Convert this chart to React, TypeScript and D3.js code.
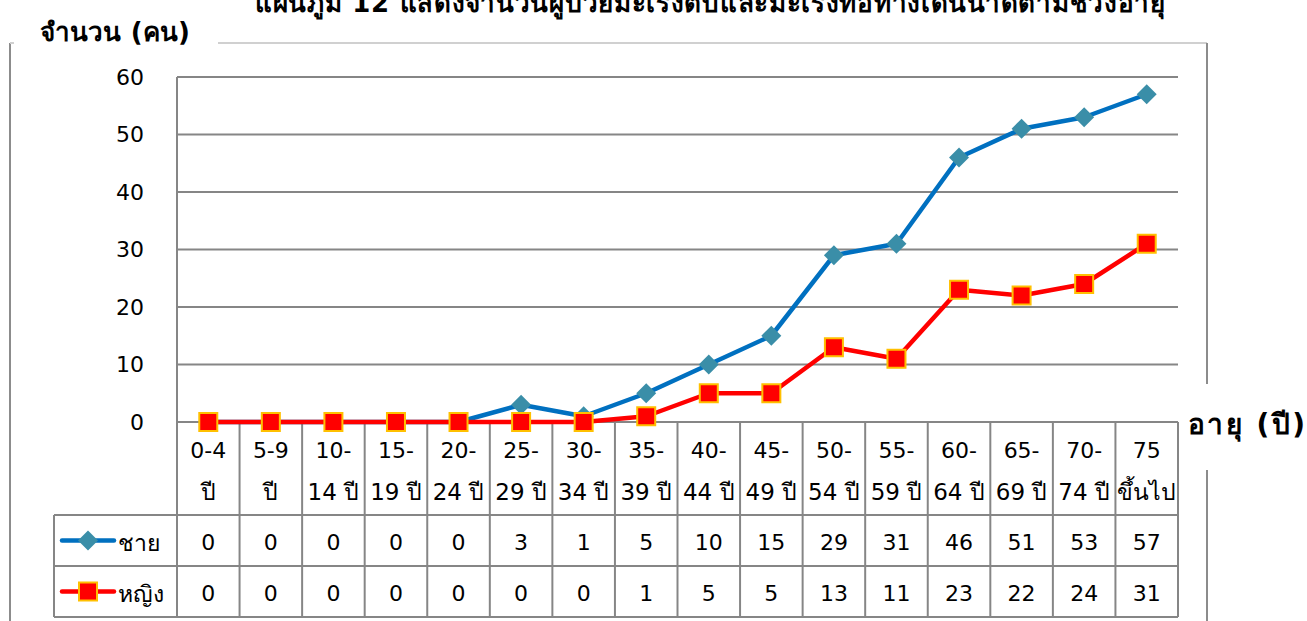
import React, { useEffect, useRef } from 'react'
import * as d3 from 'd3'

const categoriesTop = ['0-4', '5-9', '10-', '15-', '20-', '25-', '30-', '35-', '40-', '45-', '50-', '55-', '60-', '65-', '70-', '75']
const categoriesBottom = ['ปี', 'ปี', '14 ปี', '19 ปี', '24 ปี', '29 ปี', '34 ปี', '39 ปี', '44 ปี', '49 ปี', '54 ปี', '59 ปี', '64 ปี', '69 ปี', '74 ปี', 'ขึ้นไป']
const male = [0, 0, 0, 0, 0, 3, 1, 5, 10, 15, 29, 31, 46, 51, 53, 57]
const female = [0, 0, 0, 0, 0, 0, 0, 1, 5, 5, 13, 11, 23, 22, 24, 31]
const yTicks = [0, 10, 20, 30, 40, 50, 60]

const FONT = "Tahoma, 'DejaVu Sans', 'Noto Sans', sans-serif"

const App = () => {
  const ref = useRef<SVGSVGElement>(null)

  useEffect(() => {
    if (!ref.current) return
    const svg = d3.select(ref.current)
    svg.selectAll('*').remove()

    const W = 1307
    const H = 621
    const left = 177
    const right = 1178
    const catRowBottom = 515
    const rowH = 51
    const legendLeft = 54

    const idx = categoriesTop.map((d, i) => i)
    const x = d3.scaleBand<number>().domain(idx).range([left, right])
    const y = d3.scaleLinear().domain([0, 60]).range([422, 77])
    const cx = (i: number) => (x(i) as number) + x.bandwidth() / 2

    svg.append('rect').attr('width', W).attr('height', H).attr('fill', '#fff')

    // outer chart border
    svg.append('line').attr('x1', 10).attr('x2', 10).attr('y1', 43).attr('y2', H).attr('stroke', '#8c8c8c').attr('stroke-width', 2)
    svg.append('line').attr('x1', 10).attr('x2', 1207).attr('y1', 43).attr('y2', 43).attr('stroke', '#d0d0d0').attr('stroke-width', 2)
    svg.append('line').attr('x1', 1207).attr('x2', 1207).attr('y1', 43).attr('y2', H).attr('stroke', '#8c8c8c').attr('stroke-width', 2)

    // title (clipped at top, as in the source)
    svg.append('text')
      .attr('x', 710).attr('y', 12)
      .attr('text-anchor', 'middle')
      .attr('font-family', FONT).attr('font-size', 26).attr('font-weight', 'bold')
      .attr('textLength', 910).attr('lengthAdjust', 'spacing')
      .text('แผนภูมิ 12 แสดงจำนวนผู้ป่วยมะเร็งตับและมะเร็งท่อทางเดินน้ำดีตามช่วงอายุ')

    // y axis title with white background
    svg.append('rect').attr('x', 14).attr('y', 30).attr('width', 204).attr('height', 20).attr('fill', '#fff')
    svg.append('text')
      .attr('x', 40).attr('y', 41)
      .attr('font-family', FONT).attr('font-size', 26).attr('font-weight', 'bold')
      .attr('textLength', 150).attr('lengthAdjust', 'spacing')
      .text('จำนวน (คน)')

    // x axis title with white background
    svg.append('rect').attr('x', 1185).attr('y', 384).attr('width', 122).attr('height', 86).attr('fill', '#fff')
    svg.append('text')
      .attr('x', 1188).attr('y', 424)
      .attr('dominant-baseline', 'central')
      .attr('font-family', FONT).attr('font-size', 28).attr('font-weight', 'bold')
      .attr('textLength', 117).attr('lengthAdjust', 'spacing')
      .text('อายุ (ปี)')

    // gridlines
    svg.append('g')
      .selectAll('line')
      .data(yTicks)
      .enter()
      .append('line')
      .attr('x1', left).attr('x2', right)
      .attr('y1', (d) => y(d)).attr('y2', (d) => y(d))
      .attr('stroke', '#868686').attr('stroke-width', 2)

    svg.append('g')
      .selectAll('text')
      .data(yTicks)
      .enter()
      .append('text')
      .attr('x', 144).attr('y', (d) => y(d))
      .attr('text-anchor', 'end').attr('dominant-baseline', 'central')
      .attr('font-family', FONT).attr('font-size', 22)
      .text((d) => d)

    // table grid
    const tableBottom = catRowBottom + rowH * 2
    const grid = svg.append('g').attr('stroke', '#868686').attr('stroke-width', 2)
    grid.append('line').attr('x1', left).attr('x2', left).attr('y1', y(60)).attr('y2', tableBottom)
    grid.selectAll('.vcol')
      .data(idx)
      .enter()
      .append('line')
      .attr('x1', (i) => (x(i) as number) + x.bandwidth())
      .attr('x2', (i) => (x(i) as number) + x.bandwidth())
      .attr('y1', y(0)).attr('y2', tableBottom)
    ;[catRowBottom, catRowBottom + rowH, tableBottom].forEach((yy) => {
      grid.append('line').attr('x1', legendLeft).attr('x2', right).attr('y1', yy).attr('y2', yy)
    })
    grid.append('line').attr('x1', legendLeft).attr('x2', legendLeft).attr('y1', catRowBottom).attr('y2', tableBottom)

    // category labels
    const cat = svg.append('g').attr('font-family', FONT).attr('font-size', 22).attr('text-anchor', 'middle').attr('dominant-baseline', 'central')
    cat.selectAll('.t1').data(categoriesTop).enter().append('text')
      .attr('x', (d, i) => cx(i)).attr('y', 450).text((d) => d)
    cat.selectAll('.t2').data(categoriesBottom).enter().append('text')
      .attr('x', (d, i) => cx(i)).attr('y', 492).attr('font-size', 23).text((d) => d)

    // value rows
    const rows = [male, female]
    rows.forEach((vals, r) => {
      svg.append('g')
        .selectAll('text')
        .data(vals)
        .enter()
        .append('text')
        .attr('x', (d, i) => cx(i))
        .attr('y', catRowBottom + rowH * r + rowH / 2 + 2)
        .attr('text-anchor', 'middle').attr('dominant-baseline', 'central')
        .attr('font-family', FONT).attr('font-size', 22)
        .text((d) => d)
    })

    const line = d3.line<number>().x((d, i) => cx(i)).y((d) => y(d))

    // male series
    svg.append('path').datum(male).attr('d', line).attr('fill', 'none').attr('stroke', '#0070c0').attr('stroke-width', 4.5).attr('stroke-linejoin', 'round')
    const diamond = d3.symbol().type(d3.symbolSquare).size(200)
    svg.append('g')
      .selectAll('path')
      .data(male)
      .enter()
      .append('path')
      .attr('d', diamond)
      .attr('transform', (d, i) => `translate(${cx(i)},${y(d)}) rotate(45)`)
      .attr('fill', '#3a8ea8')

    // female series
    svg.append('path').datum(female).attr('d', line).attr('fill', 'none').attr('stroke', '#ff0000').attr('stroke-width', 4.5).attr('stroke-linejoin', 'round')
    svg.append('g')
      .selectAll('rect')
      .data(female)
      .enter()
      .append('rect')
      .attr('x', (d, i) => cx(i) - 9).attr('y', (d) => y(d) - 9)
      .attr('width', 18).attr('height', 18)
      .attr('fill', '#ff0000').attr('stroke', '#ffc000').attr('stroke-width', 2)

    // legend keys in table
    const keys = [
      { name: 'ชาย', color: '#0070c0' },
      { name: 'หญิง', color: '#ff0000' },
    ]
    keys.forEach((k, r) => {
      const ky = catRowBottom + rowH * r + rowH / 2
      svg.append('line').attr('x1', 62).attr('x2', 114).attr('y1', ky).attr('y2', ky)
        .attr('stroke', k.color).attr('stroke-width', 4.5).attr('stroke-linecap', 'round')
      if (r === 0) {
        svg.append('path').attr('d', diamond).attr('transform', `translate(88,${ky}) rotate(45)`).attr('fill', '#3a8ea8')
      } else {
        svg.append('rect').attr('x', 79).attr('y', ky - 9).attr('width', 18).attr('height', 18)
          .attr('fill', '#ff0000').attr('stroke', '#ffc000').attr('stroke-width', 2)
      }
      svg.append('text')
        .attr('x', 118).attr('y', ky + 2)
        .attr('dominant-baseline', 'central')
        .attr('font-family', FONT).attr('font-size', 23)
        .text(k.name)
    })
  }, [])

  return <svg ref={ref} width={1307} height={621} style={{ position: 'absolute', left: 0, top: 0, display: 'block' }} />
}

export default App
